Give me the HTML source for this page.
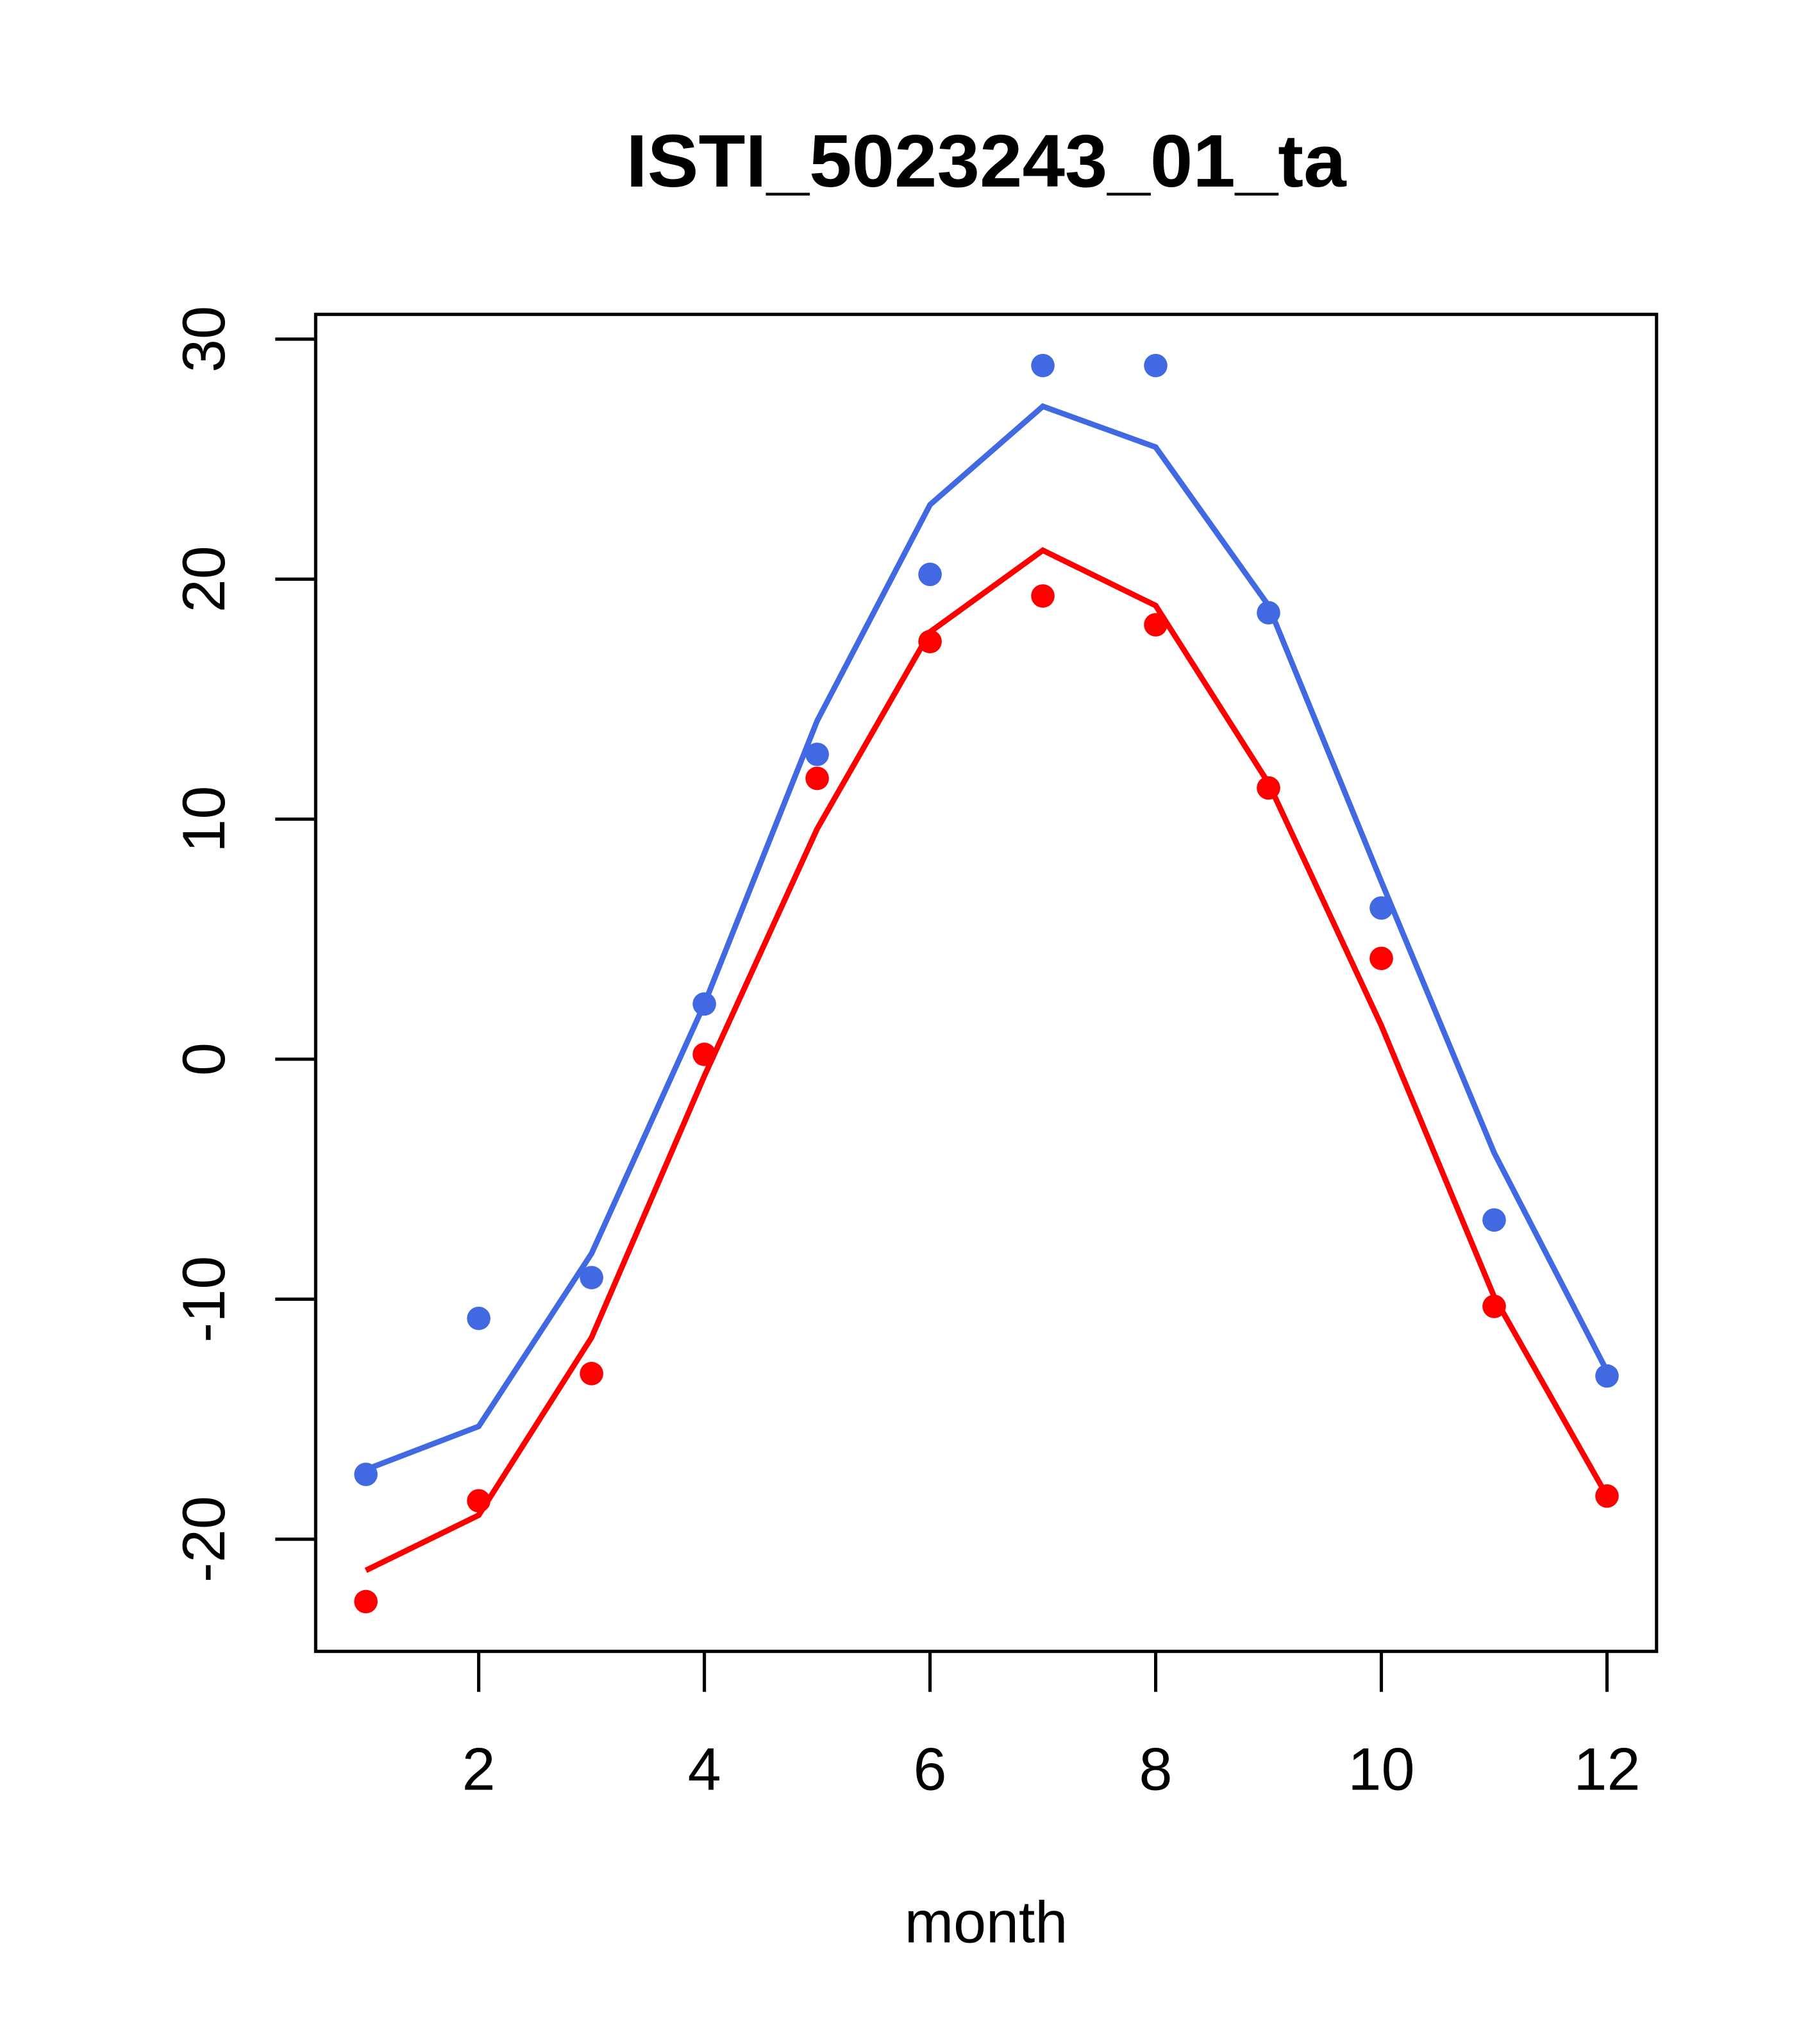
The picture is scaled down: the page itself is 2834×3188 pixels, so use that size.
<!DOCTYPE html>
<html><head><meta charset="utf-8"><style>
html,body{margin:0;padding:0;background:#fff;}
svg{display:block;}
text{font-family:"Liberation Sans",sans-serif;}
</style></head><body>
<svg id="chart" width="2834" height="3188" viewBox="0 0 1393 1567" preserveAspectRatio="none" xmlns="http://www.w3.org/2000/svg">
<rect width="1400" height="1575" fill="#fff"/>
<text x="756" y="143" text-anchor="middle" font-size="57" font-weight="bold" textLength="552" lengthAdjust="spacingAndGlyphs">ISTI_5023243_01_ta</text>
<rect x="242" y="241" width="1028" height="1025" fill="none" stroke="#000" stroke-width="2.5"/>
<text x="756" y="1489" text-anchor="middle" font-size="45">month</text>
<g id="axes"></g>
<g id="series"></g>
</svg>
<script>
const months = [1,2,3,4,5,6,7,8,9,10,11,12];
const bluePoints = [-17.3,-10.8,-9.1,2.3,12.7,20.2,28.9,28.9,18.6,6.3,-6.7,-13.2];
const blueLine = [-17.1,-15.3,-8.1,2.3,14.1,23.1,27.2,25.5,18.9,7.4,-3.9,-13.0];
const redPoints = [-22.6,-18.4,-13.1,0.2,11.7,17.4,19.3,18.1,11.3,4.2,-10.3,-18.2];
const redLine = [-21.3,-19.0,-11.6,-0.7,9.6,17.8,21.2,18.9,11.5,1.4,-9.9,-18.2];
const xTicks = [2,4,6,8,10,12];
const yTicks = [-20,-10,0,10,20,30];

const NS = "http://www.w3.org/2000/svg";
function xs(m){ return 367 + (m-2)*86.5; }
function ys(v){ return 812 - v*18.4; }
function mk(tag, attrs, parent){
  const e = document.createElementNS(NS, tag);
  for (const k in attrs) e.setAttribute(k, attrs[k]);
  parent.appendChild(e);
  return e;
}
const axes = document.getElementById('axes');
const series = document.getElementById('series');
xTicks.forEach(t=>{
  const l = mk('line',{x1:xs(t),x2:xs(t),y1:1266,y2:1297,stroke:'#000','stroke-width':2.5},axes);
  
  
  const tx = mk('text',{x:xs(t),y:1372,'text-anchor':'middle','font-size':46},axes);
  tx.textContent = t;
  
  
});
yTicks.forEach(t=>{
  const l = mk('line',{x1:211,x2:242,y1:ys(t),y2:ys(t),stroke:'#000','stroke-width':2.5},axes);
  
  
  const tx = mk('text',{x:0,y:0,'text-anchor':'middle','font-size':46,transform:`translate(172,${ys(t)}) rotate(-90)`},axes);
  tx.textContent = t;
  
  
});
function drawLine(vals,color,name){
  const p = mk('polyline',{points:vals.map((v,i)=>xs(months[i])+','+ys(v)).join(' '),fill:'none',stroke:color,'stroke-width':4.3},series);
  
  
}
function drawPts(vals,color,name){
  vals.forEach((v,i)=>{
    const c = mk('circle',{cx:xs(months[i]),cy:ys(v),r:9,fill:color},series);
    
    
  });
}
drawLine(blueLine,'#4169E1','blue-line');
drawLine(redLine,'#FF0000','red-line');
drawPts(bluePoints,'#4169E1','blue-point');
drawPts(redPoints,'#FF0000','red-point');
</script>
</body></html>
